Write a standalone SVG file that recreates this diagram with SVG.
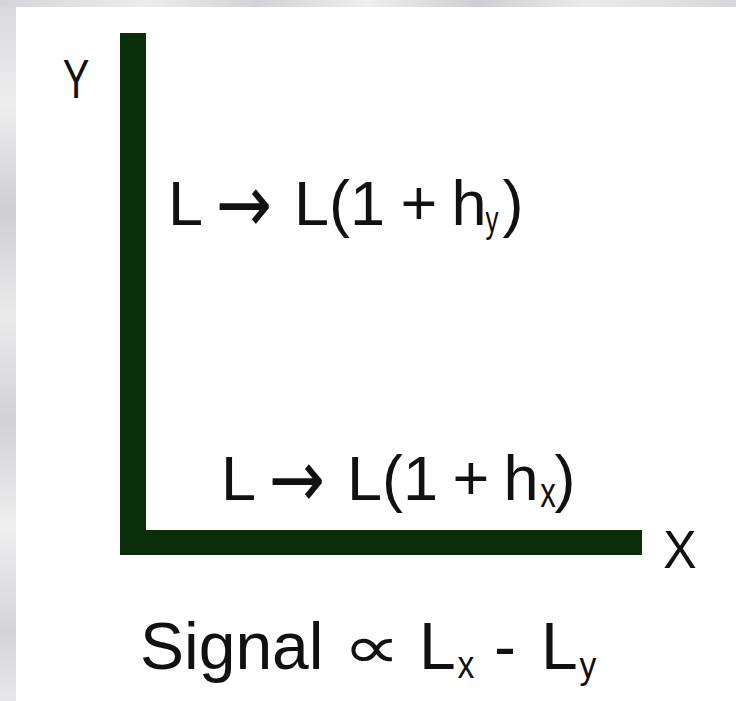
<svg xmlns="http://www.w3.org/2000/svg" width="736" height="701" viewBox="0 0 736 701">
  <defs>
    <linearGradient id="marbleV" x1="0" y1="0" x2="0" y2="1">
      <stop offset="0" stop-color="#d9d9dd"/>
      <stop offset="0.15" stop-color="#eeeeef"/>
      <stop offset="0.3" stop-color="#cfcfd3"/>
      <stop offset="0.45" stop-color="#ebebec"/>
      <stop offset="0.6" stop-color="#d2d2d6"/>
      <stop offset="0.75" stop-color="#efeff0"/>
      <stop offset="0.9" stop-color="#d5d5d9"/>
      <stop offset="1" stop-color="#e8e8ea"/>
    </linearGradient>
    <linearGradient id="marbleH" x1="0" y1="0" x2="1" y2="0">
      <stop offset="0" stop-color="#d6d6da"/>
      <stop offset="0.2" stop-color="#ececee"/>
      <stop offset="0.35" stop-color="#d3d3d7"/>
      <stop offset="0.5" stop-color="#eeeeef"/>
      <stop offset="0.65" stop-color="#cfcfd3"/>
      <stop offset="0.8" stop-color="#ebebed"/>
      <stop offset="1" stop-color="#d8d8dc"/>
    </linearGradient>
    <style>
      .arm { fill: #0a2d0a; }
      .lbl { font-family: "Liberation Sans", Arial, sans-serif; fill: #111111; }
      .arrow { font-family: "Noto Sans", "DejaVu Sans", sans-serif; font-size: 56px; fill: #111111; text-anchor: middle; }
      .big { font-size: 63px; }
      .sig { font-size: 66px; }
      .thin { font-size: 40px; }
      .sub { font-size: 26px; }
      .mid { text-anchor: middle; }
    </style>
  </defs>

  <g id="background">
    <rect x="0" y="0" width="736" height="701" fill="#ffffff"/>
    <rect x="0" y="0" width="16" height="701" fill="url(#marbleV)"/>
    <rect x="0" y="0" width="736" height="7" fill="url(#marbleH)"/>
  </g>

  <g id="arms">
    <rect class="arm" x="120" y="33" width="26" height="522"/>
    <rect class="arm" x="120" y="530" width="522" height="25"/>
  </g>

  <g id="axis-labels">
    <text class="lbl thin mid" transform="translate(76,98) scale(1,1.4)">Y</text>
    <text class="lbl thin mid" transform="translate(680,568) scale(1.25,1.36)">X</text>
  </g>

  <g id="label-y">
    <text class="lbl big" x="168" y="225">L</text>
    <text class="arrow" transform="translate(244,232) scale(1.2,1.45)">→</text>
    <text class="lbl big" x="294" y="225">L(1</text>
    <text class="lbl big mid" x="419" y="225">+</text>
    <text class="lbl big mid" x="469" y="225">h</text>
    <text class="lbl sub mid" transform="translate(492,232) scale(1,1.45)">y</text>
    <text class="lbl big mid" x="513" y="225">)</text>
  </g>

  <g id="label-x">
    <text class="lbl big" x="221" y="500">L</text>
    <text class="arrow" transform="translate(297,507) scale(1.2,1.45)">→</text>
    <text class="lbl big" x="347" y="500">L(1</text>
    <text class="lbl big mid" x="471" y="500">+</text>
    <text class="lbl big mid" x="521" y="500">h</text>
    <text class="lbl sub mid" transform="translate(548,507) scale(1.2,1.6)">x</text>
    <text class="lbl big mid" x="565" y="500">)</text>
  </g>

  <g id="signal">
    <text class="lbl sig" x="140" y="669">Signal</text>
    <text class="mid" transform="translate(372,668) scale(1.35,1)" font-family="DejaVu Sans, sans-serif" font-size="60" fill="#111111">∝</text>
    <text class="lbl sig" x="419" y="669">L</text>
    <text class="lbl sub mid" transform="translate(466,678) scale(1.3,1.5)">x</text>
    <text class="lbl sig mid" x="505" y="669">-</text>
    <text class="lbl sig" x="541" y="669">L</text>
    <text class="lbl sub mid" transform="translate(588,678) scale(1.3,1.4)">y</text>
  </g>
</svg>
